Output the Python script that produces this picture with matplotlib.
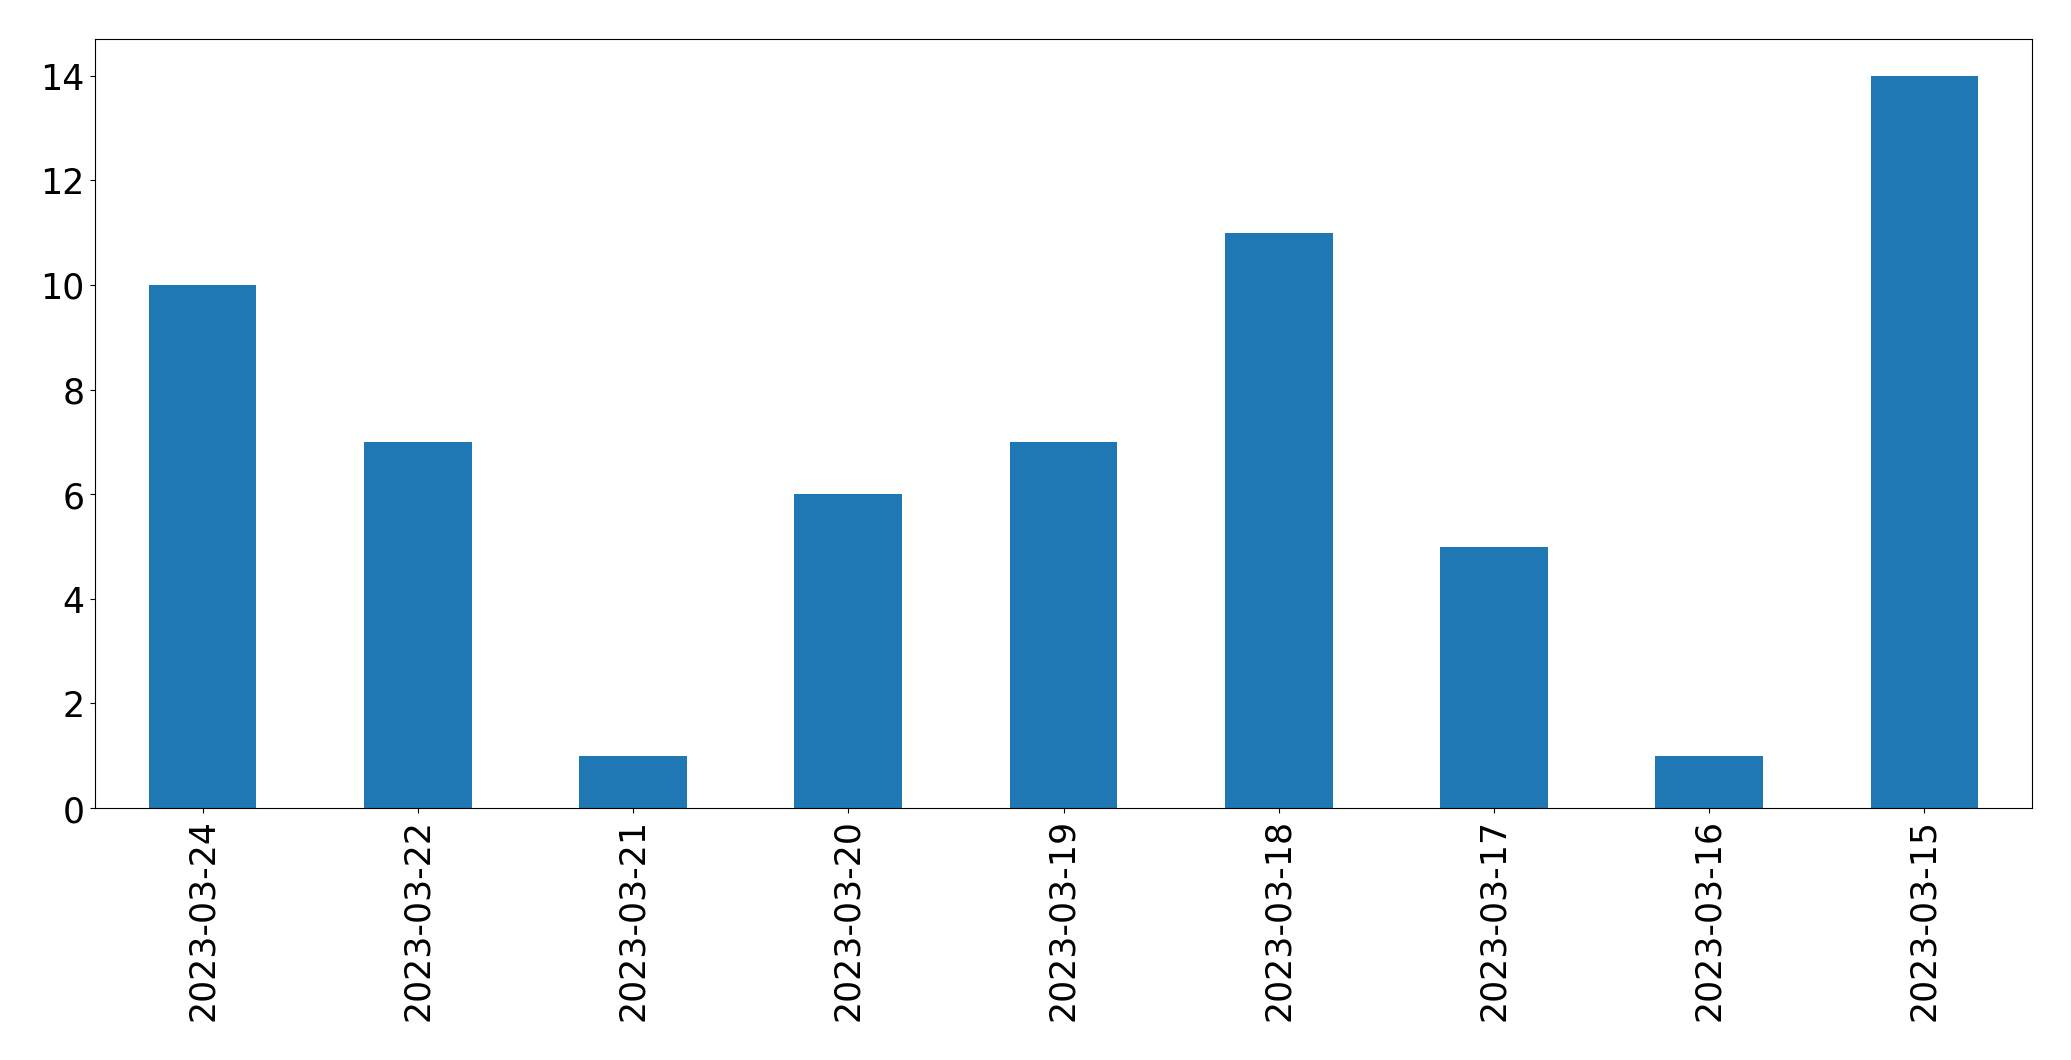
import numpy as np
import matplotlib
matplotlib.use('Agg')
import matplotlib.pyplot as plt

# Conteggi per giorno (ordine come nel grafico originale)
dates = ['2023-03-24', '2023-03-22', '2023-03-21', '2023-03-20', '2023-03-19',
         '2023-03-18', '2023-03-17', '2023-03-16', '2023-03-15']
counts = [10, 7, 1, 6, 7, 11, 5, 1, 14]

matplotlib.rc('font', size=25)

fig = plt.figure(figsize=(20.71, 10.605), dpi=100)
ax = fig.add_axes([95/2071, 1 - 809/1061, (2032-95)/2071, (809-39.5)/1061])
x = np.arange(len(dates))
ax.bar(x, counts, width=0.5, color='#1f77b4')
ax.set_xticks(x)
ax.set_xticklabels(dates, rotation=90)
ax.set_xlim(-0.5, len(dates) - 0.5)
ax.set_ylim(0, max(counts) * 1.05)
ax.set_yticks(range(0, 15, 2))
ax.tick_params(length=3.8)

fig.savefig('out.png', dpi=100)
